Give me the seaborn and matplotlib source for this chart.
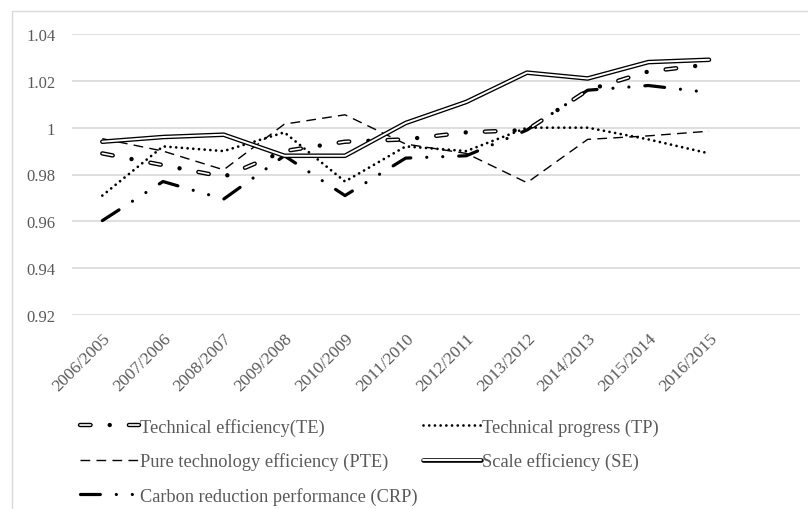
import numpy as np
import matplotlib
matplotlib.use("Agg")
import matplotlib.pyplot as plt
from matplotlib.patches import Rectangle
from matplotlib.legend_handler import HandlerTuple
import seaborn as sns

categories = ['2006/2005', '2007/2006', '2008/2007', '2009/2008', '2010/2009', '2011/2010',
              '2012/2011', '2013/2012', '2014/2013', '2015/2014', '2016/2015']
te = [0.989, 0.984, 0.979, 0.990, 0.994, 0.995, 0.998, 0.999, 1.016, 1.024, 1.027]
tp = [0.971, 0.992, 0.990, 0.998, 0.977, 0.992, 0.990, 1.000, 1.000, 0.995, 0.989]
pte = [0.9953, 0.990, 0.982, 1.0015, 1.0055, 0.993, 0.989, 0.9765, 0.995, 0.9965, 0.9985]
se = [0.994, 0.996, 0.997, 0.988, 0.988, 1.002, 1.011, 1.0235, 1.021, 1.028, 1.029]
crp = [0.9603, 0.977, 0.9695, 0.988, 0.971, 0.987, 0.988, 0.999, 1.016, 1.018, 1.015]
labels = ['Technical efficiency(TE)', 'Technical progress (TP)',
          'Pure technology efficiency (PTE)', 'Scale efficiency (SE)',
          'Carbon reduction performance (CRP)']
yticks = [0.92, 0.94, 0.96, 0.98, 1.00, 1.02, 1.04]
ytick_labels = ['0.92', '0.94', '0.96', '0.98', '1', '1.02', '1.04']

sns.set_theme(style='white')
plt.rcParams['font.family'] = ['Liberation Serif', 'DejaVu Serif']
plt.rcParams['lines.scale_dashes'] = False

W, H = 808, 510
fig = plt.figure(figsize=(W / 100, H / 100), dpi=100)
ax = fig.add_axes([72 / W, 1 - 316 / H, (800 - 72) / W, (316 - 35) / H])

TXT = '#595959'


def draw(vals, lw, ls, color='black', cap='round'):
    sns.lineplot(x=categories, y=vals, ax=ax, sort=False, errorbar=None,
                 color=color, linewidth=lw)
    line = ax.lines[-1]
    line.set_linestyle(ls)
    line.set_dash_capstyle(cap)
    line.set_solid_capstyle('round')
    line.set_solid_joinstyle('round')
    line.set_dash_joinstyle('round')
    return line


# Pure technology efficiency: thin dashed
l_pte = draw(pte, 1.0, (0, (7, 4.5)), cap='butt')
# Technical progress: round dots
l_tp = draw(tp, 2.0, (0, (0.01, 4.1)))
# Carbon reduction performance: long dash dot dot
l_crp = draw(crp, 2.3, (0, (14.3, 11.5, 0.01, 11.5, 0.01, 11.5)))
# Technical efficiency: hollow dash + dot
l_te1 = draw(te, 3.2, (0, (7.6, 13.8, 0.01, 13.8)))
l_te2 = draw(te, 1.2, (0, (7.6, 27.61)), color='white')
# Scale efficiency: double line
l_se1 = draw(se, 3.3, '-')
l_se2 = draw(se, 1.4, '-', color='white')

ax.set_xlim(-0.5, 11.5)
ax.set_ylim(0.92, 1.04)
ax.set_yticks(yticks)
ax.set_yticklabels(ytick_labels)
ax.set_xticks(range(len(categories)))
ax.set_xticklabels(categories, rotation=45, ha='right', va='top', rotation_mode='anchor')
ax.tick_params(axis='y', length=0, pad=12, labelsize=12, labelcolor=TXT)
ax.tick_params(axis='x', length=0, pad=11, labelsize=12.5, labelcolor=TXT)
ax.grid(axis='y', color='#d9d9d9', linewidth=1.2)
ax.grid(axis='x', visible=False)
for s in ax.spines.values():
    s.set_visible(False)
ax.set_xlabel('')
ax.set_ylabel('')

handles = [(l_te1, l_te2), (l_pte,), (l_crp,), (l_tp,), (l_se1, l_se2)]
leg_labels = [labels[0], labels[2], labels[4], labels[1], labels[3]]
leg = fig.legend(handles, leg_labels, loc='upper left',
                 bbox_to_anchor=(80 / W, 1 - 419 / H), ncol=2, frameon=False,
                 fontsize=13.2, handlelength=3.2, handletextpad=0.05,
                 columnspacing=0.3, labelspacing=0.9, borderpad=0, borderaxespad=0,
                 handler_map={tuple: HandlerTuple(ndivide=1)})
for t in leg.get_texts():
    t.set_color(TXT)

fig.add_artist(Rectangle((12 / W, -0.1), 2, 1 - 12 / H + 0.1, transform=fig.transFigure,
                         fill=False, edgecolor='#d9d9d9', linewidth=1.0))

fig.savefig('out.png', dpi=100, facecolor='white')
